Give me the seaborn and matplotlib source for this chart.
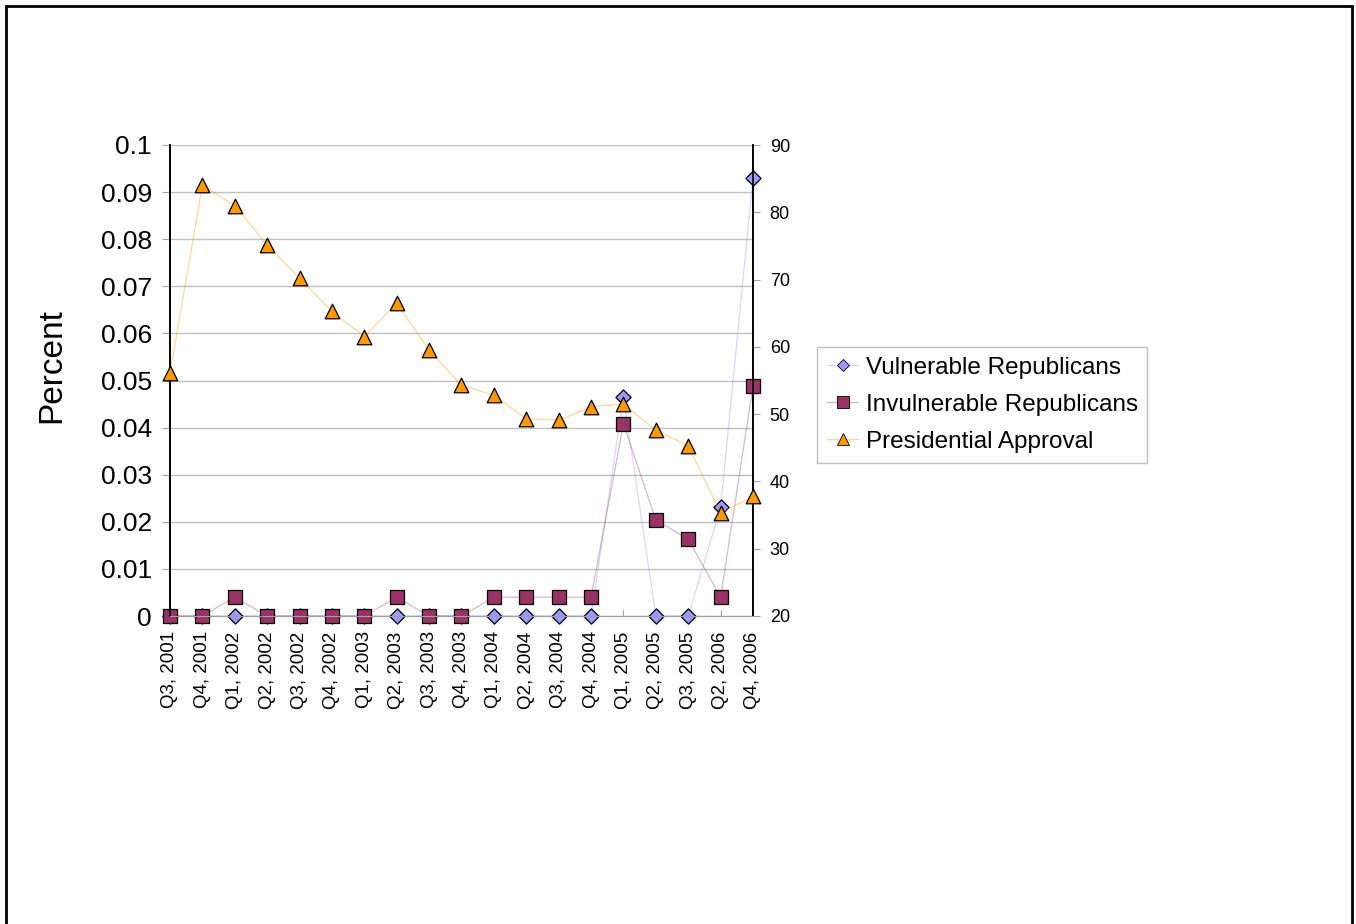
import numpy as np
import pandas as pd
import matplotlib.pyplot as plt
import seaborn as sns
from matplotlib.lines import Line2D
from matplotlib.patches import Rectangle
from matplotlib.ticker import FuncFormatter

quarters = ["Q3, 2001", "Q4, 2001", "Q1, 2002", "Q2, 2002", "Q3, 2002", "Q4, 2002",
            "Q1, 2003", "Q2, 2003", "Q3, 2003", "Q4, 2003", "Q1, 2004", "Q2, 2004",
            "Q3, 2004", "Q4, 2004", "Q1, 2005", "Q2, 2005", "Q3, 2005", "Q2, 2006",
            "Q4, 2006"]
vulnerable = [0, 0, 0, 0, 0, 0, 0, 0, 0, 0, 0, 0, 0, 0, 0.0465, 0, 0, 0.0231, 0.093]
invulnerable = [0, 0, 0.004, 0, 0, 0, 0, 0.004, 0, 0, 0.004, 0.004, 0.004, 0.004,
                0.0408, 0.0204, 0.0163, 0.004, 0.0488]
approval = [56.1, 84.0, 81.0, 75.1, 70.2, 65.3, 61.5, 66.5, 59.5, 54.3, 52.8, 49.3,
            49.1, 51.1, 51.5, 47.6, 45.3, 35.3, 37.8]

df = pd.DataFrame({"pos": np.arange(len(quarters)), "quarter": quarters,
                   "vulnerable": vulnerable, "invulnerable": invulnerable,
                   "approval": approval})

sns.set_style("white")
plt.rcParams["font.family"] = ["Liberation Sans", "DejaVu Sans"]
plt.rcParams["text.color"] = "black"
plt.rcParams["axes.labelcolor"] = "black"
plt.rcParams["xtick.color"] = "black"
plt.rcParams["ytick.color"] = "black"

fig = plt.figure(figsize=(13.56, 9.24), dpi=100)
ax = fig.add_axes([170/1356, 1-616/924, 583/1356, 471/924])
ax2 = ax.twinx()

c_vul, c_inv, c_app = "#9999ff", "#993366", "#ff9900"

# left axis series
sns.lineplot(data=df, x="pos", y="vulnerable", ax=ax, color=c_vul, lw=0.9, alpha=0.4)
sns.lineplot(data=df, x="pos", y="invulnerable", ax=ax, color=c_inv, lw=0.9, alpha=0.35)
sns.scatterplot(data=df, x="pos", y="vulnerable", ax=ax, marker="D", s=60, color=c_vul,
                edgecolor="black", linewidth=0.9, clip_on=False, zorder=4)
sns.scatterplot(data=df, x="pos", y="invulnerable", ax=ax, marker="s", s=95, color=c_inv,
                edgecolor="black", linewidth=0.9, clip_on=False, zorder=5)

# right axis series
sns.lineplot(data=df, x="pos", y="approval", ax=ax2, color=c_app, lw=0.9, alpha=0.4)
sns.scatterplot(data=df, x="pos", y="approval", ax=ax2, marker="^", s=110, color=c_app,
                edgecolor="black", linewidth=0.9, clip_on=False, zorder=5)

ax.set_xlim(0, len(quarters) - 1)
ax.set_ylim(0, 0.1)
ax2.set_ylim(20, 90)

ax.set_yticks(np.arange(0, 0.1001, 0.01))
ax.yaxis.set_major_formatter(FuncFormatter(lambda v, p: "%g" % round(v, 3)))
ax2.set_yticks(np.arange(20, 91, 10))
ax.set_xticks(df["pos"])
ax.set_xticklabels(quarters, rotation=90, fontsize=13.5)

ax.yaxis.grid(True, color="#c0c0c0", lw=1)
ax.set_axisbelow(True)

ax.tick_params(axis="y", labelsize=19, length=6, color="#a0a0a0", labelcolor="black", pad=7, left=True)
ax.tick_params(axis="x", length=4, direction="in", color="#a0a0a0", labelcolor="black", pad=11, bottom=True)
ax2.tick_params(axis="y", labelsize=13, length=5, color="#a0a0a0", labelcolor="black", pad=7, right=True)

for a in (ax, ax2):
    a.spines["top"].set_visible(False)
    a.spines["bottom"].set_color("#a0a0a0")
    a.spines["left"].set_color("black")
    a.spines["right"].set_color("black")
    a.spines["left"].set_linewidth(1.2)
    a.spines["right"].set_linewidth(1.2)

ax.set_xlabel("")
ax2.set_ylabel("")
ax.set_ylabel("Percent", fontsize=24, color="black")
ax.yaxis.set_label_coords(-0.176, 0.531)

handles = [
    Line2D([], [], color="#d0d0ff", lw=0.9, marker="D", markersize=6,
           markerfacecolor=c_vul, markeredgecolor="black", markeredgewidth=0.6),
    Line2D([], [], color="#d8b0c4", lw=0.9, marker="s", markersize=8,
           markerfacecolor=c_inv, markeredgecolor="black", markeredgewidth=0.6),
    Line2D([], [], color="#ffd699", lw=0.9, marker="^", markersize=8,
           markerfacecolor=c_app, markeredgecolor="black", markeredgewidth=0.6),
]
labels = ["Vulnerable Republicans", "Invulnerable Republicans", "Presidential Approval"]
leg = fig.legend(handles, labels, loc="upper left", bbox_to_anchor=(817/1356, 1-347/924),
                 fontsize=17.5, frameon=True, fancybox=False, edgecolor="#c0c0c0",
                 framealpha=1, borderpad=0.4, handlelength=1.3, handletextpad=0.3,
                 labelspacing=0.62, borderaxespad=0)
leg.get_frame().set_linewidth(1)
for t in leg.get_texts():
    t.set_color("black")

# outer frame (runs off the bottom edge as in the original)
fig.patches.append(Rectangle((6/1356, -0.02), 1346/1356, 1.02 - 6/924, transform=fig.transFigure,
                             fill=False, edgecolor="black", lw=2))

fig.savefig("out.png", dpi=100)
plt.close(fig)
